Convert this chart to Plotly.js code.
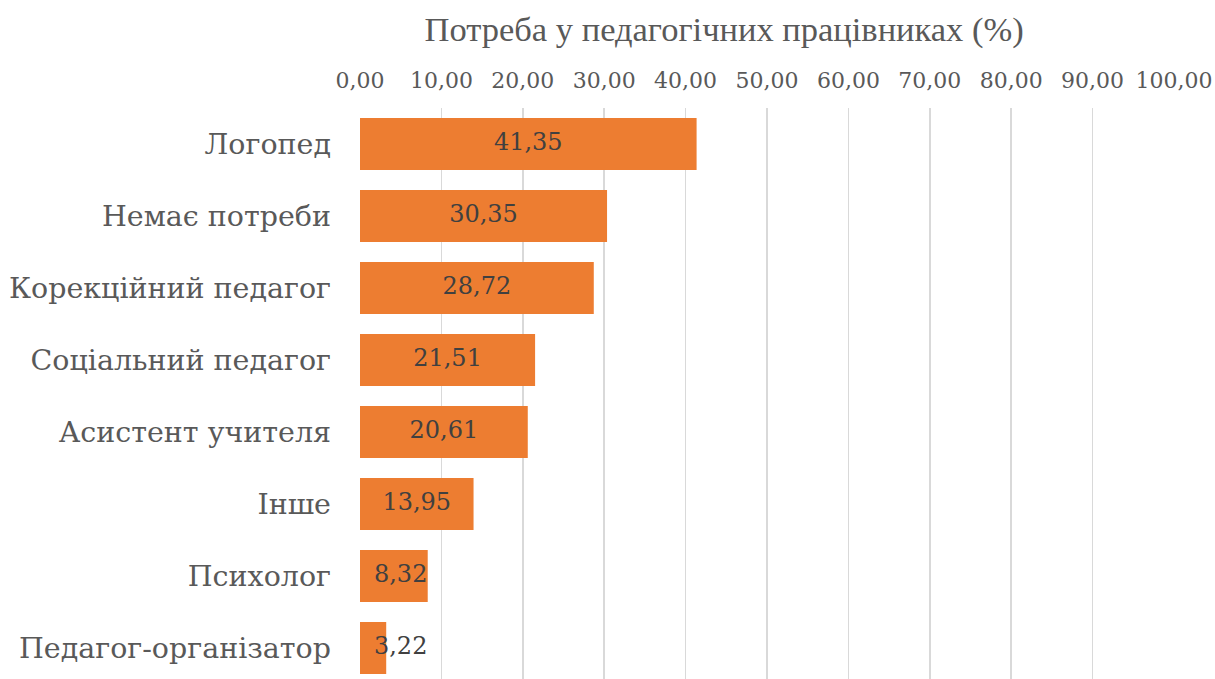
<!DOCTYPE html>
<html>
<head>
<meta charset="utf-8">
<script src="https://cdn.plot.ly/plotly-3.0.1.min.js"></script>
<style>html,body{margin:0;padding:0;background:#fff;}#chart{width:1215px;height:679px;}</style>
</head>
<body>
<div id="chart"></div>
<script>
const categories = ["Логопед", "Немає потреби", "Корекційний педагог", "Соціальний педагог", "Асистент учителя", "Інше", "Психолог", "Педагог-організатор"];
const values = [41.35, 30.35, 28.72, 21.51, 20.61, 13.95, 8.32, 3.22];
const tickValues = [0, 10, 20, 30, 40, 50, 60, 70, 80, 90, 100];
const chartTitle = "Потреба у педагогічних працівниках (%)";

const labels = values.map(v => v.toFixed(2).replace('.', ','));
const labelX = values.map(v => Math.max(v / 2, 5.0));

const serif = "Georgia, 'DejaVu Serif', serif";

const bars = {
  type: 'bar',
  orientation: 'h',
  y: categories,
  x: values,
  marker: {color: '#ED7D31'},
  hoverinfo: 'none'
};
const texts = {
  type: 'scatter',
  mode: 'text',
  y: categories,
  x: labelX,
  text: labels,
  textposition: 'middle center',
  textfont: {family: serif, size: 24, color: '#404040'},
  hoverinfo: 'none',
  cliponaxis: false
};

const layout = {
  width: 1215,
  height: 679,
  margin: {l: 360, r: 41, t: 108, b: 0},
  paper_bgcolor: '#ffffff',
  plot_bgcolor: '#ffffff',
  showlegend: false,
  bargap: 0.28,
  separators: ', ',
  title: {
    text: chartTitle,
    font: {family: "'Liberation Serif', serif", size: 34.5, color: '#595959'},
    xref: 'container', x: 0.596, xanchor: 'center',
    yref: 'container', y: 0.957, yanchor: 'middle'
  },
  xaxis: {
    side: 'top',
    range: [0, 100],
    tickvals: tickValues,
    tickformat: '.2f',
    showgrid: true,
    gridcolor: '#d9d9d9',
    gridwidth: 1.5,
    zeroline: false,
    showline: false,
    ticks: '',
    ticklabelstandoff: 15,
    tickfont: {family: serif, size: 22, color: '#595959'},
    fixedrange: true
  },
  yaxis: {
    type: 'category',
    range: [7.43, -0.5],
    showgrid: false,
    zeroline: false,
    showline: false,
    ticks: '',
    ticklabelstandoff: 28,
    tickfont: {family: serif, size: 28.5, color: '#595959'},
    fixedrange: true
  }
};

Plotly.newPlot('chart', [bars, texts], layout, {displayModeBar: false, staticPlot: true});
</script>
</body>
</html>
